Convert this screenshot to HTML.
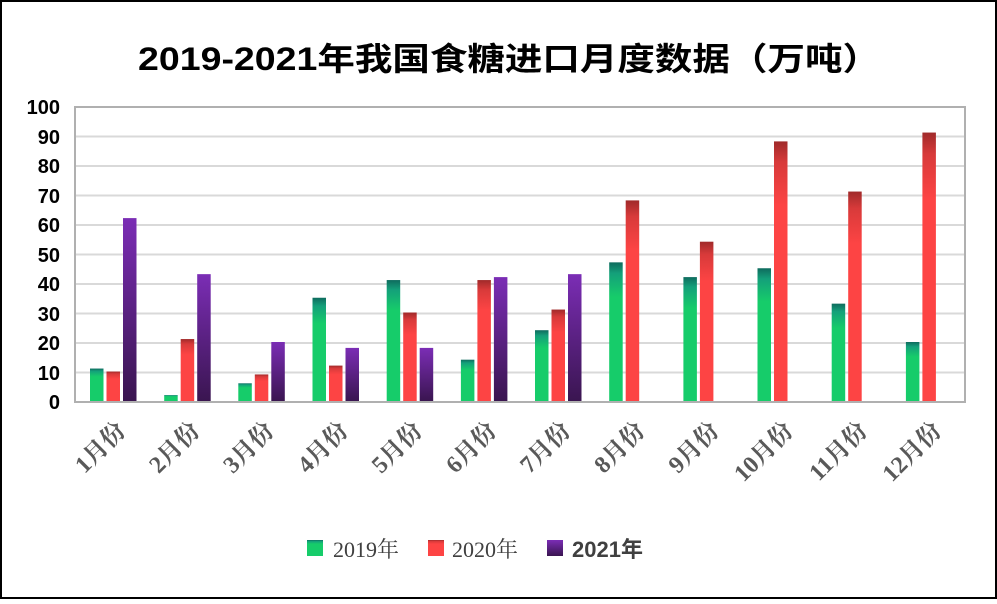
<!DOCTYPE html><html><head><meta charset="utf-8"><style>body{margin:0;background:#fff}</style></head><body>
<svg width="997" height="599" xmlns="http://www.w3.org/2000/svg" font-family="Liberation Sans, Noto Sans CJK SC, sans-serif">
<defs>
<linearGradient id="g" x1="0" y1="0" x2="0" y2="1"><stop offset="0" stop-color="#0e6b5e"/><stop offset="0.08" stop-color="#14a07a"/><stop offset="0.25" stop-color="#16cc6a"/><stop offset="1" stop-color="#16cc6a"/></linearGradient>
<linearGradient id="r" x1="0" y1="0" x2="0" y2="1"><stop offset="0" stop-color="#a02a2a"/><stop offset="0.08" stop-color="#d83a3a"/><stop offset="0.25" stop-color="#fd4444"/><stop offset="1" stop-color="#fd4444"/></linearGradient>
<linearGradient id="p" x1="0" y1="0" x2="0" y2="1"><stop offset="0" stop-color="#7b2db5"/><stop offset="1" stop-color="#3a1550"/></linearGradient>
</defs>
<rect x="1" y="1" width="995" height="597" fill="#fff" stroke="#000" stroke-width="2"/>
<text x="138" y="70" font-size="32" font-weight="bold" fill="#000" textLength="742" lengthAdjust="spacingAndGlyphs">2019-2021年我国食糖进口月度数据（万吨）</text>
<g stroke="#d9d9d9" stroke-width="2">
<line x1="75" x2="965" y1="372.5" y2="372.5"/><line x1="75" x2="965" y1="343" y2="343"/><line x1="75" x2="965" y1="313.5" y2="313.5"/><line x1="75" x2="965" y1="284" y2="284"/><line x1="75" x2="965" y1="254.5" y2="254.5"/><line x1="75" x2="965" y1="225" y2="225"/><line x1="75" x2="965" y1="195.5" y2="195.5"/><line x1="75" x2="965" y1="166" y2="166"/><line x1="75" x2="965" y1="136.5" y2="136.5"/>
</g>
<rect x="75" y="107" width="890" height="295" fill="none" stroke="#b0b0b0" stroke-width="2"/>
<g font-size="20" font-weight="bold" fill="#000" text-anchor="end">
<text x="60" y="409">0</text><text x="60" y="380">10</text><text x="60" y="350">20</text><text x="60" y="321">30</text><text x="60" y="291">40</text><text x="60" y="262">50</text><text x="60" y="232">60</text><text x="60" y="203">70</text><text x="60" y="173">80</text><text x="60" y="144">90</text><text x="60" y="114">100</text>
</g>
<g>
<rect x="90" y="368.55" width="13.5" height="32.45" fill="url(#g)"/><rect x="106.5" y="371.5" width="13.5" height="29.5" fill="url(#r)"/><rect x="123" y="218.1" width="13.5" height="182.9" fill="url(#p)"/>
<rect x="164.2" y="395.1" width="13.5" height="5.9" fill="url(#g)"/><rect x="180.7" y="339.05" width="13.5" height="61.95" fill="url(#r)"/><rect x="197.2" y="274.15" width="13.5" height="126.85" fill="url(#p)"/>
<rect x="238.3" y="383.3" width="13.5" height="17.7" fill="url(#g)"/><rect x="254.8" y="374.45" width="13.5" height="26.55" fill="url(#r)"/><rect x="271.3" y="342" width="13.5" height="59" fill="url(#p)"/>
<rect x="312.5" y="297.75" width="13.5" height="103.25" fill="url(#g)"/><rect x="329" y="365.6" width="13.5" height="35.4" fill="url(#r)"/><rect x="345.5" y="347.9" width="13.5" height="53.1" fill="url(#p)"/>
<rect x="386.7" y="280.05" width="13.5" height="120.95" fill="url(#g)"/><rect x="403.2" y="312.5" width="13.5" height="88.5" fill="url(#r)"/><rect x="419.7" y="347.9" width="13.5" height="53.1" fill="url(#p)"/>
<rect x="460.9" y="359.7" width="13.5" height="41.3" fill="url(#g)"/><rect x="477.4" y="280.05" width="13.5" height="120.95" fill="url(#r)"/><rect x="493.9" y="277.1" width="13.5" height="123.9" fill="url(#p)"/>
<rect x="535" y="330.2" width="13.5" height="70.8" fill="url(#g)"/><rect x="551.5" y="309.55" width="13.5" height="91.45" fill="url(#r)"/><rect x="568" y="274.15" width="13.5" height="126.85" fill="url(#p)"/>
<rect x="609.2" y="262.35" width="13.5" height="138.65" fill="url(#g)"/><rect x="625.7" y="200.4" width="13.5" height="200.6" fill="url(#r)"/>
<rect x="683.4" y="277.1" width="13.5" height="123.9" fill="url(#g)"/><rect x="699.9" y="241.7" width="13.5" height="159.3" fill="url(#r)"/>
<rect x="757.5" y="268.25" width="13.5" height="132.75" fill="url(#g)"/><rect x="774" y="141.4" width="13.5" height="259.6" fill="url(#r)"/>
<rect x="831.7" y="303.65" width="13.5" height="97.35" fill="url(#g)"/><rect x="848.2" y="191.55" width="13.5" height="209.45" fill="url(#r)"/>
<rect x="905.9" y="342" width="13.5" height="59" fill="url(#g)"/><rect x="922.4" y="132.55" width="13.5" height="268.45" fill="url(#r)"/>
</g>
<g font-size="24" font-weight="bold" fill="#595959" text-anchor="end" font-family="Liberation Serif, Noto Serif CJK SC, serif">
<text transform="translate(127,432) rotate(-45)">1月份</text>
<text transform="translate(201.2,432) rotate(-45)">2月份</text>
<text transform="translate(275.3,432) rotate(-45)">3月份</text>
<text transform="translate(349.5,432) rotate(-45)">4月份</text>
<text transform="translate(423.7,432) rotate(-45)">5月份</text>
<text transform="translate(497.9,432) rotate(-45)">6月份</text>
<text transform="translate(572,432) rotate(-45)">7月份</text>
<text transform="translate(646.2,432) rotate(-45)">8月份</text>
<text transform="translate(720.4,432) rotate(-45)">9月份</text>
<text transform="translate(794.5,432) rotate(-45)">10月份</text>
<text transform="translate(868.7,432) rotate(-45)">11月份</text>
<text transform="translate(942.9,432) rotate(-45)">12月份</text>
</g>
<g font-size="22" fill="#404040">
<rect x="307" y="540" width="16" height="16" fill="url(#g)"/><text x="333" y="557" font-family="Liberation Serif, Noto Serif CJK SC, serif">2019年</text>
<rect x="428" y="540" width="16" height="16" fill="url(#r)"/><text x="452" y="557" font-family="Liberation Serif, Noto Serif CJK SC, serif">2020年</text>
<rect x="547" y="540" width="16" height="16" fill="url(#p)"/><text x="572" y="557" font-weight="bold">2021年</text>
</g>
</svg></body></html>
